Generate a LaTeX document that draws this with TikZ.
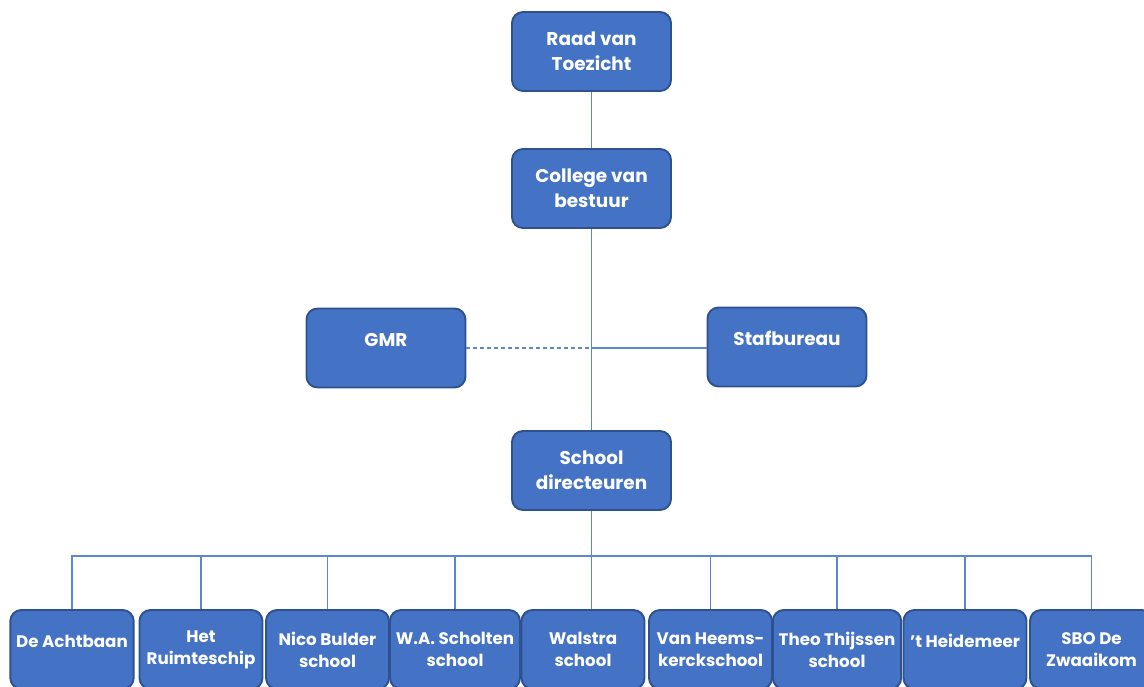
\documentclass[tikz,border=0pt]{standalone}
\usepackage{fontspec}
\setmainfont{Poppins}
\usepackage{xcolor}
\usepackage{tikz}
\usetikzlibrary{arrows,backgrounds,fit,positioning,shapes,calc}
\definecolor{boxblue}{HTML}{4472C4}
\definecolor{boxedge}{HTML}{2F528F}
\definecolor{linkblue}{HTML}{5B87D2}
\tikzset{
  orgbox/.style={draw=boxedge, line width=1.1pt, fill=boxblue, rounded corners=0.22cm,
    text=white, align=center, minimum width=3.18cm, minimum height=1.58cm,
    font=\bfseries\fontsize{10.5}{14.2}\selectfont},
  schoolbox/.style={orgbox, minimum width=2.46cm, font=\bfseries\fontsize{9.5}{12.5}\selectfont},
  oneline/.style={text height=0.15cm, text depth=0.22cm},
  twoline/.style={},
  link/.style={draw=linkblue, line width=0.6pt},
}

\begin{document}
\begin{tikzpicture}[x=0.02cm,y=-0.02cm]
          \useasboundingbox (0,0) rectangle (1144,687);
          \clip (0,0) rectangle (1144,687);
          % top of the tree
          \node[orgbox] (raad) at (591.5,51.5) {Raad van\\Toezicht};
          \node[orgbox] (college) at (591.5,188.5) {College van\\bestuur};
          \node[orgbox, oneline] (gmr) at (386,348) {GMR};
          \node[orgbox, oneline] (staf) at (787,347) {Stafbureau};
          \node[orgbox] (dir) at (591.5,470.5) {School\\directeuren};
          % schools
          \foreach \x/\name/\sty/\txt in {72/achtbaan/oneline/{De Achtbaan}, 201/ruimteschip/twoline/{Het\\Ruimteschip},
                327.5/nicobulder/twoline/{Nico Bulder\\school}, 455/scholten/twoline/{W.A. Scholten\\school},
                583/walstra/twoline/{Walstra\\school}, 710.5/heemskerck/twoline/{Van Heems-\\kerckschool},
                837/thijssen/twoline/{Theo Thijssen\\school}, 965/heidemeer/oneline/{'t Heidemeer},
                1091.5/zwaaikom/twoline/{SBO De\\Zwaaikom}}
            \node[schoolbox, \sty] (\name) at (\x,649.5) {\txt};
          % lines
          \draw[link] (raad) -- (college);
          \draw[link] (college) -- (dir);
          \coordinate (mid) at (gmr.east -| dir.north);
          \draw[link, dash pattern=on 0.08cm off 0.06cm] (gmr.east) -- (mid);
          \draw[link] (mid) -- (mid -| staf.west);
          \coordinate (split) at (591.5,556);
          \draw[link] (dir.south) -- (dir.south |- walstra.north);
          \draw[link] (achtbaan.north) |- (split) -| (zwaaikom.north);
          \foreach \name in {ruimteschip,nicobulder,scholten,heemskerck,thijssen,heidemeer}
            \draw[link] (\name.north) -- (\name.north |- split);
          \end{tikzpicture}
\end{document}
